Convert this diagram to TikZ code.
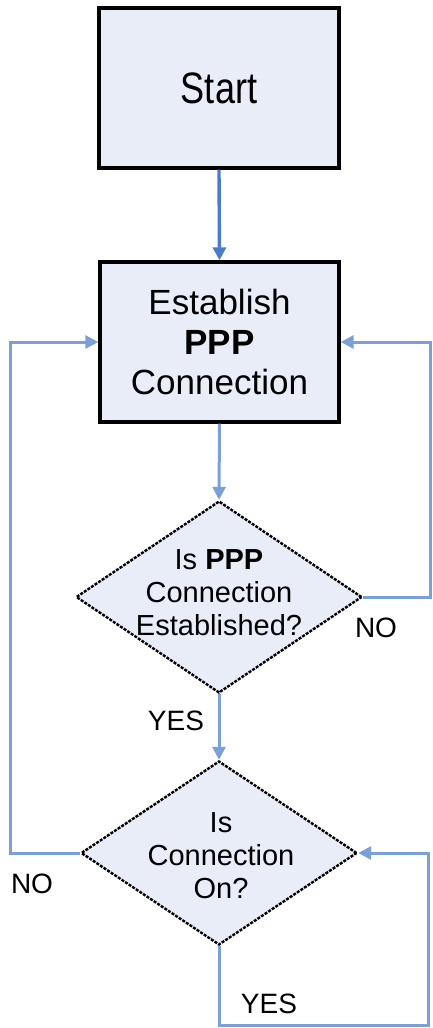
\documentclass[tikz,border=0pt]{standalone}
\usepackage{fontspec}
\setmainfont{Liberation Sans}
\usetikzlibrary{shapes.geometric,arrows.meta}
\definecolor{boxfill}{HTML}{E9EDF8}
\definecolor{flowblue}{HTML}{4A7CCB}
\definecolor{loopblue}{HTML}{7BA0D8}
\begin{document}
\begin{tikzpicture}[x=1pt,y=1pt,
  procbox/.style={draw=black,line width=3.4pt,fill=boxfill,rectangle,inner sep=0pt},
  decbox/.style={draw=black,line width=2.4pt,dash pattern=on 3pt off 1.3pt,fill=boxfill,diamond,inner sep=0pt},
  flow/.style={draw=flowblue,line width=3.4pt,-{Triangle[length=13pt,width=13pt]},color=flowblue},
  loop/.style={draw=loopblue,line width=3pt,-{Triangle[length=13pt,width=13pt]},color=loopblue},
  lbl/.style={inner sep=0pt,font=\fontsize{28}{32}\selectfont},
  dtxt/.style={inner sep=0pt,align=center,font=\fontsize{29}{33}\selectfont}
]
\useasboundingbox (0,0) rectangle (432,-1028);
\node[procbox,minimum width=240pt,minimum height=160pt] (start) at (219,-88) {\fontsize{44}{48}\selectfont\scalebox{0.82}[1]{Start}};
\node[procbox,minimum width=239pt,minimum height=160pt,align=center,font=\fontsize{35}{40}\selectfont] (est) at (219.5,-342) {Establish\\\textbf{PPP}\\Connection};
\node[decbox,minimum width=286pt,minimum height=192pt] (d1) at (219,-597) {};
\node[dtxt] (d1t) at (219,-593) {Is \textbf{PPP}\\Connection\\Established?};
\node[decbox,minimum width=276pt,minimum height=184pt] (d2) at (219,-853) {};
\node[dtxt] (d2t) at (221,-856) {Is\\Connection\\On?};
\node[lbl] (no1) at (376,-628) {NO};
\node[lbl] (yes1) at (176,-721) {YES};
\node[lbl] (no2) at (32,-884) {NO};
\node[lbl] (yes2) at (269,-1004) {YES};
\coordinate (r1) at (430,-597);
\coordinate (l2) at (10,-853);
\coordinate (b1) at (219,-1025);
\coordinate (b2) at (428,-1025);
\draw[flow] (start.south) -- (est.north);
\draw[loop] (est.south) -- (d1.north);
\draw[loop] (d1.south) -- (d2.north);
\draw[loop] (d1.east) -- (r1) |- (est.east);
\draw[loop] (d2.west) -- (l2) |- (est.west);
\draw[loop] (d2.south) -- (b1) -- (b2) |- (d2.east);
\end{tikzpicture}
\end{document}
